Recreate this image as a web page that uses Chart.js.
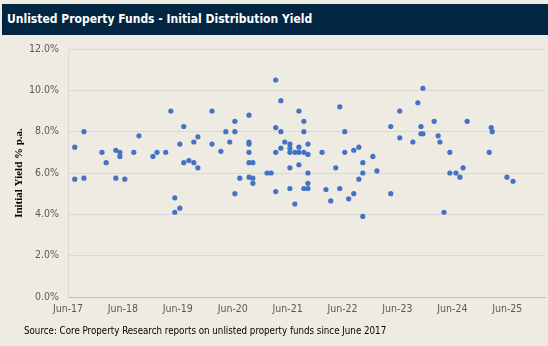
<!DOCTYPE html>
<html>
<head>
<meta charset="utf-8">
<script src="https://cdn.jsdelivr.net/npm/chart.js@4.4.1/dist/chart.umd.min.js"></script>
<style>
body { margin:0; background:#eeebe3; }
#wrap { position:relative; width:548px; height:346px; background:#eeebe3; overflow:hidden; }
#titleBar { position:absolute; left:2px; top:4px; width:546px; height:31px; box-sizing:border-box; padding-left:5px;
  background:#022542; color:#fff; font:bold 12px "DejaVu Sans Condensed","DejaVu Sans",sans-serif; line-height:31px; }
#source { position:absolute; left:24px; top:325px; color:#000; font:9.7px "DejaVu Sans Condensed","DejaVu Sans",sans-serif; }
#myChart { position:absolute; left:0; top:0; }
</style>
</head>
<body>
<div id="wrap">
  <canvas id="myChart" width="548" height="346"></canvas>
  <div id="titleBar">Unlisted Property Funds - Initial Distribution Yield</div>
  <div id="source">Source: Core Property Research reports on unlisted property funds since June 2017</div>
</div>
<script>
// fund launch dates and the initial yield (% p.a.) of each fund
var dates = [
    "2017-07-16","2017-07-16","2017-09-15","2017-09-15","2018-01-13","2018-02-10","2018-04-15","2018-04-15",
    "2018-05-12","2018-05-12","2018-06-14","2018-08-13","2018-09-16","2018-12-18","2019-01-14","2019-03-13",
    "2019-04-16","2019-05-12","2019-05-12","2019-06-15","2019-06-15","2019-07-11","2019-07-11","2019-08-14",
    "2019-09-16","2019-09-16","2019-10-13","2019-10-13","2020-01-15","2020-01-15","2020-03-14","2020-04-16",
    "2020-05-12","2020-06-15","2020-06-15","2020-06-15","2020-07-18","2020-09-17","2020-09-17","2020-09-17",
    "2020-09-17","2020-09-17","2020-09-17","2020-10-13","2020-10-13","2020-10-13","2021-01-15","2021-02-11",
    "2021-03-14","2021-03-14","2021-03-14","2021-03-14","2021-04-17","2021-04-17","2021-04-17","2021-05-13",
    "2021-06-16","2021-06-16","2021-06-16","2021-06-16","2021-06-16","2021-07-19","2021-07-19","2021-08-15",
    "2021-08-15","2021-08-15","2021-08-15","2021-09-17","2021-09-17","2021-09-17","2021-09-17","2021-10-14",
    "2021-10-14","2021-10-14","2021-10-14","2021-10-14","2022-01-16","2022-02-11","2022-03-15","2022-04-17",
    "2022-05-14","2022-05-14","2022-06-16","2022-06-16","2022-07-12","2022-08-15","2022-08-15","2022-09-18",
    "2022-09-18","2022-10-14","2022-10-14","2022-10-14","2022-12-20","2023-01-16","2023-04-18","2023-04-18",
    "2023-06-17","2023-06-17","2023-09-12","2023-10-15","2023-11-05","2023-11-05","2023-11-18","2023-11-18",
    "2024-02-01","2024-02-27","2024-03-10","2024-04-06","2024-05-15","2024-05-15","2024-06-25","2024-07-21",
    "2024-08-11","2024-09-07","2025-02-01","2025-02-14","2025-02-21","2025-05-30","2025-07-09"
];
var yields = [
    7.25,5.7,8.0,5.75,7.0,6.5,7.1,5.75,
    7.0,6.8,5.7,7.0,7.8,6.8,7.0,7.0,
    9.0,4.8,4.1,7.4,4.3,8.25,6.5,6.6,
    7.5,6.5,7.75,6.25,9.0,7.4,7.05,8.0,
    7.5,8.5,8.0,5.0,5.75,8.8,7.5,7.4,
    7.0,6.5,5.8,6.5,5.75,5.5,6.0,6.0,
    10.5,8.2,7.0,5.1,9.5,8.0,7.2,7.5,
    7.4,7.2,7.0,6.25,5.25,7.0,4.5,9.0,
    7.25,7.0,6.4,8.5,8.0,7.0,5.25,7.4,
    6.9,6.0,5.5,5.25,7.0,5.2,4.65,6.25,
    9.2,5.25,8.0,7.0,4.75,7.1,5.0,7.25,
    5.7,6.5,6.0,3.9,6.8,6.1,8.25,5.0,
    9.0,7.7,7.5,9.4,8.25,7.9,10.1,7.9,
    8.5,7.8,7.5,4.1,7.0,6.0,6.0,5.8,
    6.25,8.5,7.0,8.2,8.0,5.8,5.6
];
var xTickDates = ["2017-06-01","2018-06-01","2019-06-01","2020-06-01","2021-06-01","2022-06-01","2023-06-01","2024-06-01","2025-06-01"];
var xTickLabels = ["Jun-17","Jun-18","Jun-19","Jun-20","Jun-21","Jun-22","Jun-23","Jun-24","Jun-25"];
var xStart = "2017-06-01";
var xEnd = "2026-02-07";

var tickFont = { family: "'DejaVu Sans Condensed','DejaVu Sans',sans-serif", size: 10.5 };

var punti = [];
for (var i = 0; i < dates.length; i++) {
    punti.push({ x: Date.parse(dates[i]), y: yields[i] });
}

var ctx = document.getElementById("myChart");
var grafico = new Chart(ctx, {
    type: 'scatter',
    data: {
        datasets: [{
            label: 'Initial Yield',
            data: punti,
            backgroundColor: "#4472c4",
            borderWidth: 0,
            pointRadius: 2.6,
            pointHoverRadius: 2.6
        }]
    },
    options: {
        responsive: false,
        animation: false,
        layout: { padding: { top: 49, right: 3, bottom: 0, left: 0 } },
        plugins: {
            legend: { display: false },
            title: { display: false },
            tooltip: { enabled: false }
        },
        scales: {
            x: {
                type: 'linear',
                min: Date.parse(xStart),
                max: Date.parse(xEnd),
                afterFit: function (scale) { scale.height = 49; },
                afterBuildTicks: function (scale) {
                    scale.ticks = xTickDates.map(function (d) { return { value: Date.parse(d) }; });
                },
                grid: { display: false, drawTicks: false },
                border: { display: true, color: "#bfbfbf", width: 1 },
                ticks: {
                    autoSkip: false,
                    maxRotation: 0,
                    padding: 6,
                    color: "#595959",
                    font: tickFont,
                    callback: function (value, index) { return xTickLabels[index]; }
                }
            },
            y: {
                min: 0,
                max: 12,
                afterFit: function (scale) { scale.width = 68; },
                grid: { color: "#d9d9d9", drawTicks: false },
                border: { display: true, color: "#d9d9d9", width: 1 },
                ticks: {
                    stepSize: 2,
                    padding: 9,
                    color: "#595959",
                    font: tickFont,
                    callback: function (value) { return value.toFixed(1) + "%"; }
                },
                title: {
                    display: true,
                    text: "Initial Yield % p.a.",
                    color: "#000",
                    padding: { top: 13, bottom: 0 },
                    font: { family: "'Liberation Serif',serif", size: 11, weight: 'bold' }
                }
            }
        }
    }
});
</script>
</body>
</html>
